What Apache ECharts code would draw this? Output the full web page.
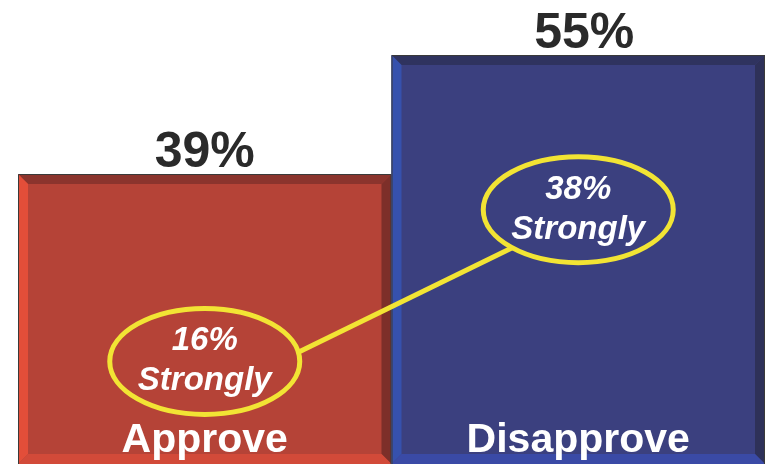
<!DOCTYPE html>
<html>
<head>
<meta charset="utf-8">
<script src="https://cdn.jsdelivr.net/npm/echarts@6/dist/echarts.min.js"></script>
<style>
  html, body { margin: 0; padding: 0; background: #fff; }
  #chart { width: 765px; height: 464px; }
</style>
</head>
<body>
<div id="chart"></div>
<script>
// data
const categories = ['Approve', 'Disapprove']
const totals = [39, 55]
const strongly = [16, 38]

// styles per bar: main, top bevel, left bevel, right bevel, bottom bevel
const barColors = [
  { main: '#b54337', top: '#8b342d', left: '#e34e39', right: '#7d2f29', bottom: '#d24a39' },
  { main: '#3b407f', top: '#2f335f', left: '#3651ad', right: '#2e3159', bottom: '#3a4aa6' },
]
// vertical position of the callout ellipses (in axis units)
const calloutY = [13.8, 34.2]
const yellow = '#f2e434'
const FONT = 'Liberation Sans'

const chart = echarts.init(document.getElementById('chart'))

function renderBar(params, api) {
  const i = params.dataIndex
  const c = barColors[i]
  const top = api.coord([i, api.value(1)])
  const base = api.coord([i, 0])
  const bw = api.size([1, 0])[0]
  const x0 = top[0] - bw / 2
  const x1 = top[0] + bw / 2
  const y0 = top[1]
  const y1 = base[1]
  const b = 10
  return {
    type: 'group',
    children: [
      { type: 'rect', shape: { x: x0, y: y0, width: x1 - x0, height: y1 - y0 }, style: { fill: c.main } },
      { type: 'polygon', shape: { points: [[x0, y0], [x1, y0], [x1 - b, y0 + b], [x0 + b, y0 + b]] }, style: { fill: c.top } },
      { type: 'polygon', shape: { points: [[x0, y0], [x0 + b, y0 + b], [x0 + b, y1 - b], [x0, y1]] }, style: { fill: c.left } },
      { type: 'polygon', shape: { points: [[x1, y0], [x1, y1], [x1 - b, y1 - b], [x1 - b, y0 + b]] }, style: { fill: c.right } },
      { type: 'polygon', shape: { points: [[x0, y1], [x0 + b, y1 - b], [x1 - b, y1 - b], [x1, y1]] }, style: { fill: c.bottom } },
      { type: 'rect', shape: { x: x0 + 0.5, y: y0 + 0.5, width: x1 - x0 - 1, height: y1 - y0 }, style: { fill: 'none', stroke: '#3a3a3a', lineWidth: 1 } },
      {
        type: 'text',
        style: {
          text: api.value(1) + '%', x: top[0] + (i === 1 ? 6 : 0), y: y0 - 21, align: 'center', verticalAlign: 'middle',
          font: 'bold 50px "' + FONT + '"', fill: '#2a2a2a',
        },
      },
      {
        type: 'text',
        style: {
          text: categories[i], x: top[0], y: y1 - 23, align: 'center', verticalAlign: 'middle',
          font: 'bold 41px "' + FONT + '"', fill: '#ffffff',
        },
      },
    ],
  }
}

const rx = 95, ry = 53

function renderCallout(params, api) {
  const i = params.dataIndex
  const p = api.coord([i, calloutY[i]])
  const children = []
  if (i === 0) {
    // connector to the other callout
    const q = api.coord([1, calloutY[1]])
    const a = 10 * Math.PI / 180
    const t = 134 * Math.PI / 180
    children.push({
      type: 'line',
      shape: {
        x1: p[0] + rx * Math.cos(a), y1: p[1] - ry * Math.sin(a),
        x2: q[0] + rx * Math.cos(t), y2: q[1] + ry * Math.sin(t),
      },
      style: { stroke: yellow, lineWidth: 5 },
    })
  }
  children.push({
    type: 'ellipse',
    shape: { cx: p[0], cy: p[1], rx: rx, ry: ry },
    style: { fill: 'none', stroke: yellow, lineWidth: 5 },
  })
  children.push({
    type: 'text',
    style: {
      text: api.value(1) + '%\nStrongly', x: p[0], y: p[1], align: 'center', verticalAlign: 'middle',
      font: 'italic bold 33px "' + FONT + '"', lineHeight: 40, fill: '#ffffff',
    },
  })
  return { type: 'group', children: children }
}

chart.setOption({
  animation: false,
  grid: { left: 18, right: 0, top: 0, bottom: 0 },
  xAxis: { type: 'category', data: categories, show: false },
  yAxis: { type: 'value', min: 0, max: 62.4, show: false },
  series: [
    {
      type: 'custom',
      renderItem: renderBar,
      data: totals.map((v, i) => [i, v]),
      z: 2,
    },
    {
      type: 'custom',
      renderItem: renderCallout,
      data: strongly.map((v, i) => [i, v]),
      z: 3,
    },
  ],
})
</script>
</body>
</html>
